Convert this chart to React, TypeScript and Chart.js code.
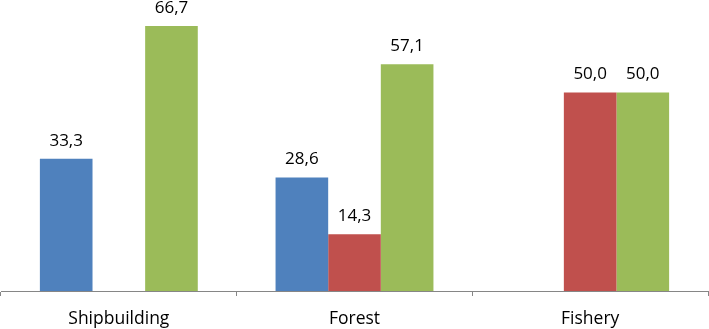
import React, { useEffect, useRef } from "react";
import { Chart, registerables } from "chart.js";

Chart.register(...registerables);

const categories = ["Shipbuilding", "Forest", "Fishery"];
const seriesBlue: (number | null)[] = [33.3, 28.6, null];
const seriesRed: (number | null)[] = [null, 14.3, 50.0];
const seriesGreen: (number | null)[] = [66.7, 57.1, 50.0];

const FONT = "'Open Sans', 'DejaVu Sans', sans-serif";

const labelPlugin = {
  id: "barValueLabels",
  afterDatasetsDraw(chart: any) {
    const ctx = chart.ctx;
    ctx.save();
    ctx.font = "17px " + FONT;
    ctx.fillStyle = "#000000";
    ctx.textAlign = "center";
    ctx.textBaseline = "alphabetic";
    chart.data.datasets.forEach((ds: any, i: number) => {
      const meta = chart.getDatasetMeta(i);
      meta.data.forEach((bar: any, j: number) => {
        const v = ds.data[j];
        if (v === null || v === undefined) return;
        const txt = v.toFixed(1).replace(".", ",");
        ctx.fillText(txt, bar.x, bar.y - 13);
      });
    });
    ctx.restore();
  },
};

export default function App() {
  const ref = useRef<HTMLCanvasElement | null>(null);
  useEffect(() => {
    document.body.style.margin = "0";
    if (!ref.current) return;
    const chart = new Chart(ref.current, {
      type: "bar",
      data: {
        labels: categories,
        datasets: [
          { label: "A", data: seriesBlue, backgroundColor: "#4F81BD" },
          { label: "B", data: seriesRed, backgroundColor: "#C0504D" },
          { label: "C", data: seriesGreen, backgroundColor: "#9BBB59" },
        ],
      },
      options: {
        animation: false,
        responsive: false,
        maintainAspectRatio: false,
        layout: { padding: { top: 13, left: 1, right: 1, bottom: 0 } },
        datasets: { bar: { categoryPercentage: 0.67, barPercentage: 1 } },
        plugins: { legend: { display: false }, tooltip: { enabled: false } },
        scales: {
          y: { display: false, min: 0, max: 70 },
          x: {
            afterFit: (scale: any) => {
              scale.height = 38;
            },
            border: { display: true, color: "#868686", width: 1 },
            grid: {
              offset: true,
              drawOnChartArea: false,
              drawTicks: true,
              tickLength: 5,
              color: "#868686",
            },
            ticks: {
              color: "#000000",
              padding: 13,
              font: { family: FONT, size: 17.5 },
            },
          },
        },
      },
      plugins: [labelPlugin],
    });
    return () => chart.destroy();
  }, []);
  return (
    <div style={{ width: 709, height: 329 }}>
      <canvas ref={ref} width={709} height={329} style={{ display: "block" }} />
    </div>
  );
}
